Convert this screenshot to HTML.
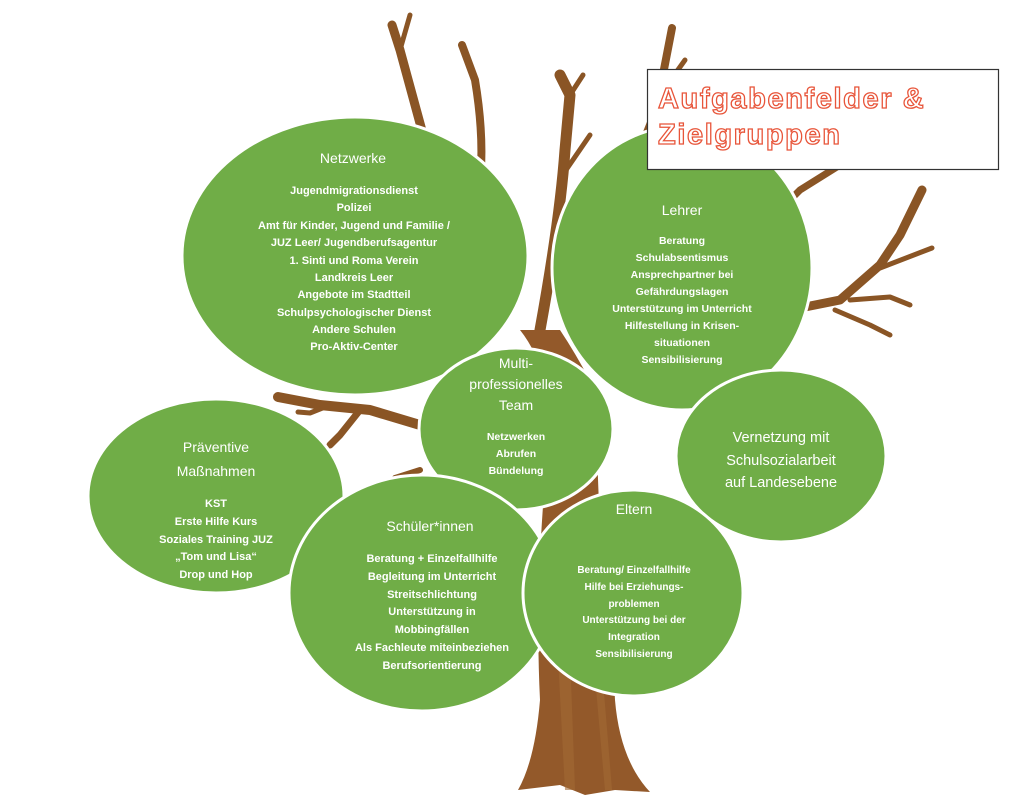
<!DOCTYPE html>
<html><head><meta charset="utf-8"><style>
html,body{margin:0;padding:0;background:#fff;}
svg{display:block;}
text{font-family:"Liberation Sans",sans-serif;fill:#fff;text-anchor:middle;}
.t{font-size:14px;}
.i{font-size:11px;font-weight:bold;}
.v{font-size:14.5px;}
text.h{text-anchor:start;font-size:29px;font-weight:bold;fill:#fff;stroke:#e8553a;stroke-width:1.3;letter-spacing:1.6px;}
</style></head><body>
<svg width="1024" height="809" viewBox="0 0 1024 809" xmlns="http://www.w3.org/2000/svg">
<g stroke="#8a5525" fill="none" stroke-linecap="round" stroke-linejoin="round">
  <path d="M470 320 L430 160 L400 50 L392 25" stroke-width="9"/>
  <path d="M400 50 L410 15" stroke-width="5"/>
  <path d="M470 230 Q490 170 475 80 L462 45" stroke-width="8"/>
  <path d="M540 330 Q560 220 565 150 L570 95 L560 75" stroke-width="11"/>
  <path d="M570 95 L583 75" stroke-width="5"/>
  <path d="M566 170 L590 135" stroke-width="5"/>
  <path d="M610 250 L640 150 L652 120 L660 90 L672 28" stroke-width="8"/>
  <path d="M660 95 L685 60" stroke-width="5"/>
  <path d="M760 230 L800 190 L840 165" stroke-width="7"/>
  <path d="M790 310 L840 300 L880 265 L900 235 L922 190" stroke-width="9"/>
  <path d="M880 268 L932 248" stroke-width="5"/>
  <path d="M850 300 L890 297 L910 305" stroke-width="5"/>
  <path d="M835 310 L870 325 L890 335" stroke-width="5"/>
  <path d="M420 425 L370 410 L320 405 L278 397" stroke-width="10"/>
  <path d="M360 410 L340 435 L330 445" stroke-width="7"/>
  <path d="M330 405 L310 413 L298 412" stroke-width="5"/>
  <path d="M420 470 L395 478" stroke-width="6"/>
</g>
<path d="M520 330 Q560 380 545 480 Q535 600 540 700 Q535 760 518 790 L560 785 L585 795 L615 790 L650 792 Q620 760 615 700 Q610 600 600 520 Q595 440 600 400 Q580 360 560 330 Z" fill="#93592a"/>
<g fill="#a36a35" opacity="0.6"><path d="M555 600 L565 790 L575 790 L568 600Z"/><path d="M590 620 L605 790 L612 790 L598 620Z"/></g>
<g fill="#70ad47" stroke="#fff" stroke-width="3">
  <ellipse cx="355" cy="256" rx="173" ry="139"/>
  <ellipse cx="682" cy="268" rx="130" ry="142"/>
  <ellipse cx="216" cy="496" rx="128" ry="97"/>
  <ellipse cx="516" cy="429" rx="97" ry="81"/>
  <ellipse cx="781" cy="456" rx="105" ry="86"/>
  <ellipse cx="422" cy="593" rx="133" ry="118"/>
  <ellipse cx="633" cy="593" rx="110" ry="103"/>
</g>
<text class="t" x="353" y="163">Netzwerke</text>
<g class="i">
<text x="354" y="194">Jugendmigrationsdienst</text>
<text x="354" y="211">Polizei</text>
<text x="354" y="229">Amt für Kinder, Jugend und Familie /</text>
<text x="354" y="246">JUZ Leer/ Jugendberufsagentur</text>
<text x="354" y="264">1. Sinti und Roma Verein</text>
<text x="354" y="281">Landkreis Leer</text>
<text x="354" y="298">Angebote im Stadtteil</text>
<text x="354" y="316">Schulpsychologischer Dienst</text>
<text x="354" y="333">Andere Schulen</text>
<text x="354" y="350">Pro-Aktiv-Center</text>
</g>
<text class="t" x="682" y="215">Lehrer</text>
<g class="i" style="font-size:10.5px">
<text x="682" y="244">Beratung</text>
<text x="682" y="261">Schulabsentismus</text>
<text x="682" y="278">Ansprechpartner bei</text>
<text x="682" y="295">Gefährdungslagen</text>
<text x="682" y="312">Unterstützung im Unterricht</text>
<text x="682" y="329">Hilfestellung in Krisen-</text>
<text x="682" y="346">situationen</text>
<text x="682" y="363">Sensibilisierung</text>
</g>
<text class="t" x="516" y="368">Multi-</text>
<text class="t" x="516" y="389">professionelles</text>
<text class="t" x="516" y="410">Team</text>
<g class="i" style="font-size:10.5px">
<text x="516" y="440">Netzwerken</text>
<text x="516" y="457">Abrufen</text>
<text x="516" y="474">Bündelung</text>
</g>
<text class="v" x="781" y="442">Vernetzung mit</text>
<text class="v" x="781" y="465">Schulsozialarbeit</text>
<text class="v" x="781" y="487">auf Landesebene</text>
<text class="t" x="216" y="452">Präventive</text>
<text class="t" x="216" y="476">Maßnahmen</text>
<g class="i">
<text x="216" y="507">KST</text>
<text x="216" y="525">Erste Hilfe Kurs</text>
<text x="216" y="543">Soziales Training JUZ</text>
<text x="216" y="560">„Tom und Lisa“</text>
<text x="216" y="578">Drop und Hop</text>
</g>
<text class="t" x="430" y="531">Schüler*innen</text>
<g class="i">
<text x="432" y="562">Beratung + Einzelfallhilfe</text>
<text x="432" y="580">Begleitung im Unterricht</text>
<text x="432" y="598">Streitschlichtung</text>
<text x="432" y="615">Unterstützung in</text>
<text x="432" y="633">Mobbingfällen</text>
<text x="432" y="651">Als Fachleute miteinbeziehen</text>
<text x="432" y="669">Berufsorientierung</text>
</g>
<text class="t" x="634" y="514">Eltern</text>
<g class="i" style="font-size:10px">
<text x="634" y="573">Beratung/ Einzelfallhilfe</text>
<text x="634" y="590">Hilfe bei Erziehungs-</text>
<text x="634" y="607">problemen</text>
<text x="634" y="623">Unterstützung bei der</text>
<text x="634" y="640">Integration</text>
<text x="634" y="657">Sensibilisierung</text>
</g>
<rect x="647.5" y="69.5" width="351" height="100" fill="#fff" stroke="#333" stroke-width="1.2"/>
<text class="h" x="658" y="108">Aufgabenfelder &amp;</text>
<text class="h" x="658" y="144">Zielgruppen</text>
</svg>
</body></html>
